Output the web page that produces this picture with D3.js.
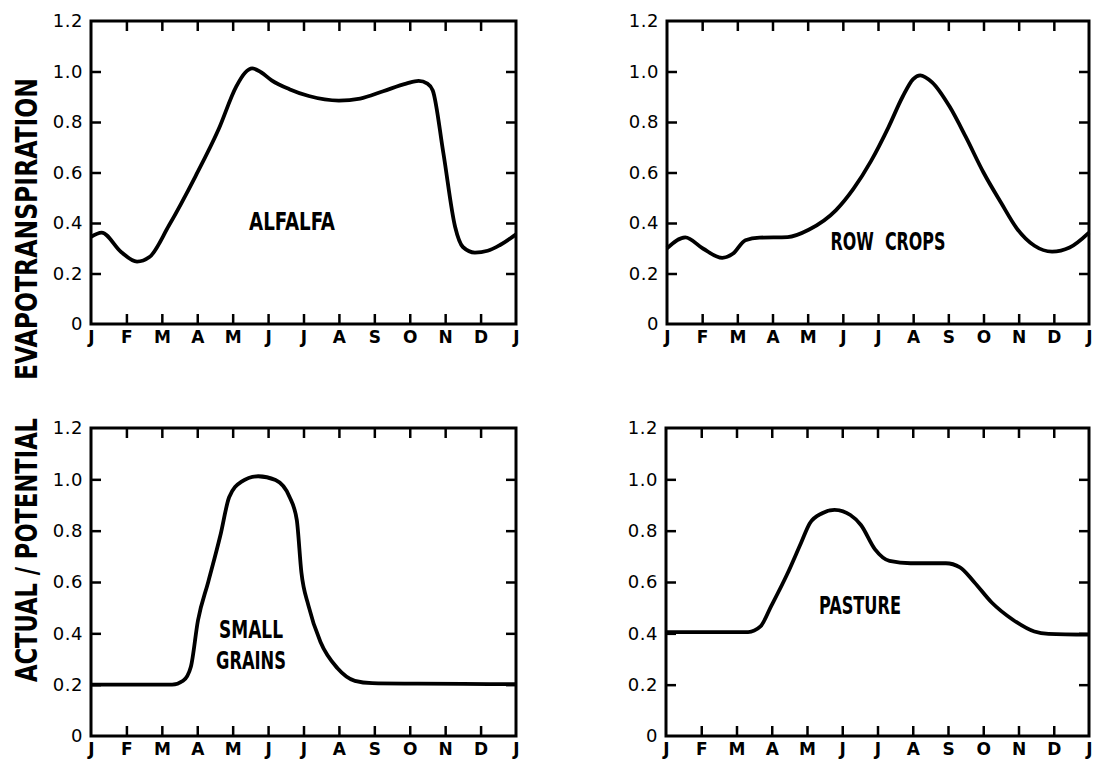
<!DOCTYPE html>
<html>
<head>
<meta charset="utf-8">
<script src="https://cdn.jsdelivr.net/npm/d3@7"></script>
<style>
  body { margin: 0; background: #fff; }
  svg { display: block; }
</style>
</head>
<body>
<div id="chart"></div>
<script>
// Actual / potential evapotranspiration by crop - four panels

// month letters along the x axis (Jan .. next Jan)
const monthLabels = ["J", "F", "M", "A", "M", "J", "J", "A", "S", "O", "N", "D", "J"];
const yTicks = [0, 0.2, 0.4, 0.6, 0.8, 1.0, 1.2];

// [month position, ratio]
const alfalfa = [
    [0, 0.345], [0.3, 0.362], [0.85, 0.285], [1.3, 0.247], [1.65, 0.265], [2.2, 0.39],
    [2.95, 0.585], [3.6, 0.77], [4.1, 0.94], [4.35, 0.995], [4.55, 1.012], [4.8, 0.997],
    [5.1, 0.965], [5.6, 0.93], [6.15, 0.903], [7.0, 0.885], [7.6, 0.893], [8.25, 0.922],
    [8.9, 0.952], [9.25, 0.963], [9.5, 0.952], [9.65, 0.925], [9.95, 0.676], [10.28, 0.385],
    [10.5, 0.305], [10.84, 0.283], [11.2, 0.29], [11.55, 0.313], [12, 0.355]
];

const rowCrops = [
    [0, 0.3], [0.52, 0.343], [1.02, 0.299], [1.57, 0.262], [1.87, 0.278], [2.23, 0.332],
    [2.63, 0.342], [3.43, 0.344], [4.03, 0.373], [4.8, 0.45], [5.3, 0.535], [5.8, 0.645],
    [6.3, 0.78], [6.7, 0.9], [7.0, 0.97], [7.2, 0.985], [7.54, 0.957], [8.04, 0.86],
    [8.5, 0.74], [9.0, 0.6], [9.5, 0.48], [9.94, 0.38], [10.45, 0.31], [10.95, 0.287],
    [11.45, 0.303], [12, 0.362]
];

const smallGrains = [
    [0, 0.2], [1.2, 0.2], [2.29, 0.2], [2.6, 0.215], [2.82, 0.27], [3.02, 0.45],
    [3.31, 0.6], [3.65, 0.78], [3.9, 0.93], [4.24, 0.99], [4.72, 1.012], [5.21, 0.997],
    [5.6, 0.933], [5.81, 0.842], [5.94, 0.638], [6.14, 0.508], [6.48, 0.366], [6.96, 0.264],
    [7.45, 0.215], [7.94, 0.206], [9.1, 0.204], [10.5, 0.203], [12, 0.202]
];

const pasture = [
    [0, 0.405], [1.42, 0.405], [2.33, 0.405], [2.68, 0.427], [2.98, 0.505], [3.43, 0.628],
    [3.83, 0.752], [4.08, 0.829], [4.43, 0.868], [4.78, 0.881], [5.23, 0.861], [5.53, 0.822],
    [5.93, 0.727], [6.34, 0.682], [6.94, 0.673], [7.94, 0.673], [8.34, 0.657], [8.74, 0.6],
    [9.24, 0.52], [9.84, 0.453], [10.45, 0.407], [10.85, 0.398], [12, 0.395]
];

const panels = [
    { data: alfalfa,     label: ["ALFALFA"],          x0: 91,  x1: 516,  y0: 21,  y1: 324, lx: 292, ly: [230], lw: [86] },
    { data: rowCrops,    label: ["ROW  CROPS"],       x0: 667, x1: 1089, y0: 21,  y1: 324, lx: 888, ly: [250], lw: [115] },
    { data: smallGrains, label: ["SMALL", "GRAINS"],  x0: 91,  x1: 516,  y0: 428, y1: 736, lx: 251, ly: [638, 669], lw: [64, 70] },
    { data: pasture,     label: ["PASTURE"],          x0: 666, x1: 1089, y0: 428, y1: 736, lx: 860, ly: [614], lw: [82] }
];

const width = 1095, height = 761;
const tickFont = "'DejaVu Sans', 'Liberation Sans', sans-serif";
const letterFont = "'Liberation Sans Narrow', 'DejaVu Sans Condensed', 'Liberation Sans', sans-serif";

const svg = d3.select("#chart").append("svg")
    .attr("width", width)
    .attr("height", height);

panels.forEach(p => {
    const x = d3.scaleLinear().domain([0, 12]).range([p.x0, p.x1]);
    const y = d3.scaleLinear().domain([0, 1.2]).range([p.y1, p.y0]);
    const g = svg.append("g");

    // axes: inward ticks on all four sides
    const bottom = g.append("g").attr("transform", `translate(0,${p.y1})`)
        .call(d3.axisBottom(x).tickValues(d3.range(13)).tickFormat(i => monthLabels[i])
            .tickSize(-10).tickSizeOuter(0).tickPadding(7));
    const top = g.append("g").attr("transform", `translate(0,${p.y0})`)
        .call(d3.axisTop(x).tickValues(d3.range(1, 12)).tickFormat("")
            .tickSize(-10).tickSizeOuter(0));
    const left = g.append("g").attr("transform", `translate(${p.x0},0)`)
        .call(d3.axisLeft(y).tickValues(yTicks).tickFormat(d => d === 0 ? "0" : d3.format(".1f")(d))
            .tickSize(-10).tickSizeOuter(0).tickPadding(8));
    const right = g.append("g").attr("transform", `translate(${p.x1},0)`)
        .call(d3.axisRight(y).tickValues(yTicks.slice(1, 6)).tickFormat("")
            .tickSize(-10).tickSizeOuter(0));

    [bottom, top, left, right].forEach(a => {
        a.select(".domain").remove();
        a.selectAll("line").attr("stroke", "#000").attr("stroke-width", 2.5);
        a.selectAll("text").attr("fill", "#000").attr("font-family", tickFont);
    });
    bottom.selectAll(".tick").filter(d => d === 0 || d === 12).select("line").remove();
    left.selectAll(".tick").filter(d => d === 0 || d === 1.2).select("line").remove();
    bottom.selectAll("text").attr("font-size", 17).attr("font-weight", "bold");
    left.selectAll("text").attr("font-size", 18).attr("letter-spacing", 0.5);

    // frame
    g.append("rect")
        .attr("x", p.x0).attr("y", p.y0)
        .attr("width", p.x1 - p.x0).attr("height", p.y1 - p.y0)
        .attr("fill", "none").attr("stroke", "#000").attr("stroke-width", 3);

    // curve
    const line = d3.line()
        .x(d => x(d[0]))
        .y(d => y(d[1]))
        .curve(d3.curveMonotoneX);
    g.append("path")
        .datum(p.data)
        .attr("d", line)
        .attr("fill", "none")
        .attr("stroke", "#000")
        .attr("stroke-width", 3.8)
        .attr("stroke-linejoin", "round");

    // crop name
    p.label.forEach((t, i) => {
        g.append("text")
            .attr("x", p.lx).attr("y", p.ly[i])
            .attr("text-anchor", "middle")
            .attr("font-family", letterFont)
            .attr("font-weight", "bold")
            .attr("font-size", 24)
            .attr("textLength", p.lw[i])
            .attr("lengthAdjust", "spacingAndGlyphs")
            .style("white-space", "pre")
            .text(t);
    });
});

// shared y title
const titles = [
    { text: "EVAPOTRANSPIRATION", cy: 229, len: 302 },
    { text: "ACTUAL / POTENTIAL", cy: 550, len: 264 }
];
titles.forEach(t => {
    svg.append("text")
        .attr("transform", `translate(37,${t.cy}) rotate(-90)`)
        .attr("text-anchor", "middle")
        .attr("font-family", letterFont)
        .attr("font-weight", "bold")
        .attr("font-size", 31)
        .attr("textLength", t.len)
        .attr("lengthAdjust", "spacingAndGlyphs")
        .text(t.text);
});
</script>
</body>
</html>
